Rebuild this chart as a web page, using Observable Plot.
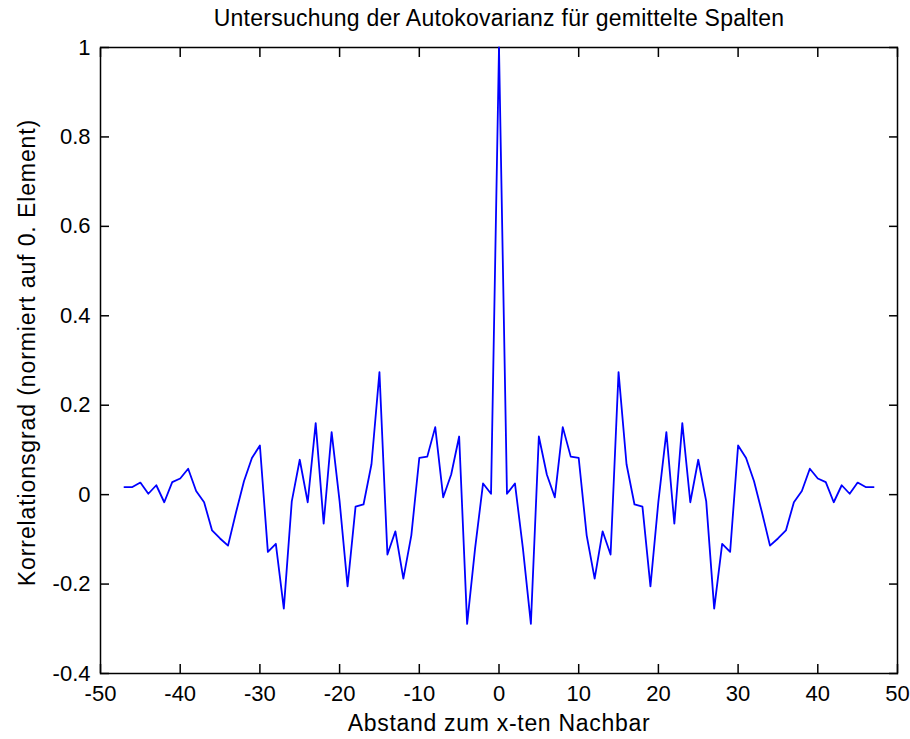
<!DOCTYPE html>
<html><head><meta charset="utf-8">
<script src="https://cdn.jsdelivr.net/npm/d3@7"></script>
<script src="https://cdn.jsdelivr.net/npm/@observablehq/plot@0.6"></script>
<style>html,body{margin:0;padding:0;background:#fff;}</style>
</head><body><div id="chart"></div>
<script>
const title = "Untersuchung der Autokovarianz für gemittelte Spalten";
const xLabel = "Abstand zum x-ten Nachbar";
const yLabel = "Korrelationsgrad (normiert auf 0. Element)";

const lags = [-47,-46,-45,-44,-43,-42,-41,-40,-39,-38,-37,-36,-35,-34,-33,-32,-31,-30,-29,-28,-27,-26,-25,-24,-23,-22,-21,-20,-19,-18,-17,-16,-15,-14,-13,-12,-11,-10,-9,-8,-7,-6,-5,-4,-3,-2,-1,
  0,1,2,3,4,5,6,7,8,9,10,11,12,13,14,15,16,17,18,19,20,21,22,23,24,25,26,27,28,29,30,31,32,33,34,35,36,37,38,39,40,41,42,43,44,45,46,47];

const values = [0.017,0.017,0.027,0.002,0.021,-0.017,0.028,0.036,0.058,0.008,-0.017,-0.080,-0.098,-0.114,-0.040,0.030,0.082,0.110,-0.128,-0.110,-0.255,-0.015,0.078,-0.017,0.160,-0.065,0.140,-0.015,-0.205,-0.027,-0.022,0.068,0.274,-0.134,-0.082,-0.188,-0.091,0.082,0.085,0.151,-0.006,0.045,0.130,-0.289,-0.120,0.025,0.002,
  1.0,
  0.002,0.025,-0.120,-0.289,0.130,0.045,-0.006,0.151,0.085,0.082,-0.091,-0.188,-0.082,-0.134,0.274,0.068,-0.022,-0.027,-0.205,-0.015,0.140,-0.065,0.160,-0.017,0.078,-0.015,-0.255,-0.110,-0.128,0.110,0.082,0.030,-0.040,-0.114,-0.098,-0.080,-0.017,0.008,0.058,0.036,0.028,-0.017,0.021,0.002,0.027,0.017,0.017];

const xTicks = [-50,-40,-30,-20,-10,0,10,20,30,40,50];
const xTickLabels = ["-50","-40","-30","-20","-10","0","10","20","30","40","50"];
const yTicks = [-0.4,-0.2,0,0.2,0.4,0.6,0.8,1];
const yTickLabels = ["-0.4","-0.2","0","0.2","0.4","0.6","0.8","1"];

const data = lags.map((x, i) => ({x, y: values[i]}));

const chart = Plot.plot({
  width: 910,
  height: 739,
  marginLeft: 100,
  marginRight: 13,
  marginTop: 47,
  marginBottom: 66,
  style: {fontFamily: "'Liberation Sans', Arial, sans-serif", fontSize: "22px", background: "#fff", color: "#000"},
  x: {domain: [-50, 50]},
  y: {domain: [-0.4, 1]},
  marks: [
    Plot.frame({stroke: "#000", strokeWidth: 1.5}),
    Plot.axisX({anchor: "bottom", ticks: xTicks, tickSize: -9, tickPadding: 21, strokeWidth: 1.5, fontSize: 22,
      tickFormat: d => xTickLabels[xTicks.indexOf(d)], label: null}),
    Plot.axisX({anchor: "top", ticks: xTicks, tickSize: -9, strokeWidth: 1.5, tickFormat: () => "", label: null}),
    Plot.axisY({anchor: "left", ticks: yTicks, tickSize: -9, tickPadding: 19, strokeWidth: 1.5, fontSize: 22,
      tickFormat: d => yTickLabels[yTicks.indexOf(d)], label: null}),
    Plot.axisY({anchor: "right", ticks: yTicks, tickSize: -9, strokeWidth: 1.5, tickFormat: () => "", label: null}),
    Plot.line(data, {x: "x", y: "y", stroke: "#0000ff", strokeWidth: 1.8}),
    Plot.text([title], {frameAnchor: "top", dy: -29, text: d => d, textAnchor: "middle", lineAnchor: "middle", fontSize: 23}),
    Plot.text([xLabel], {frameAnchor: "bottom", dy: 50, text: d => d, textAnchor: "middle", lineAnchor: "middle", fontSize: 23}),
    Plot.text([yLabel], {frameAnchor: "left", dx: -73, dy: -8, rotate: -90, text: d => d, textAnchor: "middle", lineAnchor: "middle", fontSize: 23})
  ]
});
// match the wider letter spacing of the original figure's font
const spacing = new Map([[title, "0.25px"], [xLabel, "0.7px"], [yLabel, "0.9px"]]);
chart.querySelectorAll("text").forEach(t => {
  if (spacing.has(t.textContent)) t.setAttribute("letter-spacing", spacing.get(t.textContent));
});
document.getElementById("chart").appendChild(chart);
</script>
</body></html>
